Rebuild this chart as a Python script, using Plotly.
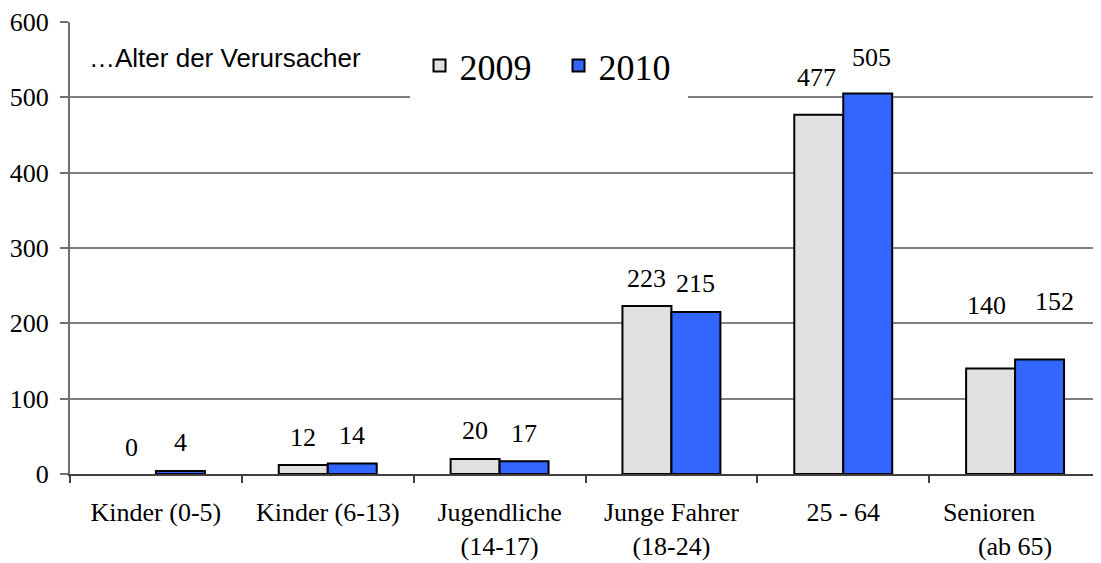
import plotly.graph_objects as go

# data
categories = ["Kinder (0-5)", "Kinder (6-13)", "Jugendliche<br>(14-17)",
              "Junge Fahrer<br>(18-24)", "25 - 64",
              "Senioren" + "\u00a0" * 8 + "<br>(ab 65)"]
values_2009 = [0, 12, 20, 223, 477, 140]
values_2010 = [4, 14, 17, 215, 505, 152]
series_names = ["2009", "2010"]
y_ticks = [0, 100, 200, 300, 400, 500, 600]

# label placement (px above bar top / px sideways), the source labels were hand placed
label_dy_2009 = [27, 27, 28, 28, 37, 63]
label_dy_2010 = [28, 28, 28, 29, 36, 58]
label_dx_2009 = [0, 0, 0, 0, -2, -4]
label_dx_2010 = [0, 0, 0, 0, 4, 15]

serif = "Liberation Serif"
sans = "Liberation Sans"
bar_w = 24.5  # half of the group width in px


def bar_y(vals):
    # a zero bar is left out, otherwise its outline shows as a flat line on the axis
    return [v if v != 0 else None for v in vals]


fig = go.Figure()
fig.add_trace(go.Bar(x=categories, y=bar_y(values_2009), name=series_names[0],
                     marker=dict(color="#E0E0E0", line=dict(color="black", width=2))))
fig.add_trace(go.Bar(x=categories, y=bar_y(values_2010), name=series_names[1],
                     marker=dict(color="#3366FF", line=dict(color="black", width=2))))

for vals, dys, dxs, side in [(values_2009, label_dy_2009, label_dx_2009, -1),
                             (values_2010, label_dy_2010, label_dx_2010, 1)]:
    for cat, v, dy, dx in zip(categories, vals, dys, dxs):
        fig.add_annotation(x=cat, y=v, text=str(v), showarrow=False,
                           xanchor="center", yanchor="middle",
                           xshift=side * bar_w + dx, yshift=dy,
                           font=dict(family=serif, size=26, color="black"))

fig.add_annotation(xref="paper", yref="paper", x=0.0165, y=0.92,
                   xanchor="left", yanchor="middle", showarrow=False,
                   text="\u2026Alter der Verursacher",
                   font=dict(family=sans, size=26, color="black"))

# white box behind the legend, it hides the 500 gridline like in the original
fig.add_shape(type="rect", xref="paper", yref="paper",
              x0=0.3298, x1=0.5994, y0=0.80, y1=0.95,
              fillcolor="white", line=dict(width=0), layer="above")

# the page body has an 8px margin, so the figure is made 8px smaller each way
fig.update_layout(
    width=1093, height=555,
    margin=dict(l=62, r=0, t=14, b=89),
    paper_bgcolor="white", plot_bgcolor="white",
    barmode="group", bargap=0.43, bargroupgap=0,
    showlegend=True,
    legend=dict(orientation="h", x=0.339, xanchor="left", y=0.97, yanchor="top",
                bgcolor="rgba(0,0,0,0)", borderwidth=0,
                font=dict(family=serif, size=36, color="black"),
                entrywidth=94, entrywidthmode="pixels"),
    font=dict(family=serif, size=26, color="black"),
)
fig.update_xaxes(showline=True, linecolor="#404040", linewidth=2,
                 ticks="outside", tickson="boundaries", ticklen=7,
                 tickcolor="#404040", tickwidth=2, ticklabelstandoff=14,
                 tickfont=dict(family=serif, size=26, color="black"))
fig.update_yaxes(range=[0, 600], tickvals=y_ticks, showgrid=True,
                 gridcolor="#808080", gridwidth=1.5, zeroline=False,
                 showline=True, linecolor="#707070", linewidth=2,
                 ticks="outside", ticklen=8, tickcolor="#707070", tickwidth=2,
                 ticklabelstandoff=6,
                 tickfont=dict(family=serif, size=26, color="black"))

fig.write_html("out.html")
